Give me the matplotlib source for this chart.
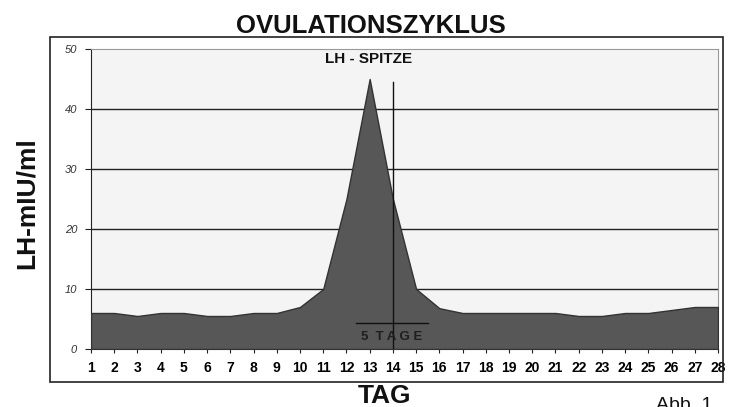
import numpy as np
import matplotlib.pyplot as plt
from matplotlib.patches import Rectangle

plt.rcParams['font.family'] = ['Liberation Sans', 'DejaVu Sans']

# Data
days = list(range(1, 29))
lh_values = [6, 6, 5.5, 6, 6, 5.5, 5.5, 6, 6, 7, 10, 25, 45, 25, 10, 6.8, 6,
             6, 6, 6, 6, 5.5, 5.5, 6, 6, 6.5, 7, 7]
y_ticks = [0, 10, 20, 30, 40, 50]
peak_day = 14
peak_line_top = 44.5
window_start, window_end = 12.4, 15.5

fig = plt.figure(figsize=(7.34, 4.07), dpi=100)
fig.patch.set_facecolor('white')

# outer frame
fig.patches.append(Rectangle((50 / 734, 1 - 382 / 407), 673 / 734, 345 / 407,
                             transform=fig.transFigure, fill=False,
                             edgecolor='#222222', linewidth=1.2))

ax = fig.add_axes([91 / 734, 1 - 349 / 407, 627 / 734, 300 / 407])
ax.set_facecolor('#f4f4f4')

ax.fill_between(days, lh_values, 0, color='#575757', edgecolor='#333333',
                linewidth=1.0, zorder=3)

for v in y_ticks[1:-1]:
    ax.axhline(v, color='#222222', linewidth=1.0, zorder=2)

# LH peak marker
ax.plot([peak_day, peak_day], [0, peak_line_top], color='#111111',
        linewidth=1.0, zorder=4)
ax.text(12.95, 48.3, 'LH - SPITZE', ha='center', va='center', fontsize=11,
        fontweight='bold', color='#111111', zorder=5)

# 5 day window
ax.plot([window_start, window_end], [4.3, 4.3], color='#111111',
        linewidth=1.0, zorder=4)
ax.text((window_start + window_end) / 2, 2.0, '5  T A G E', ha='center',
        va='center', fontsize=9.5, fontweight='bold', color='#1e1e1e', zorder=5)

ax.set_xlim(1, 28)
ax.set_ylim(0, 50)
ax.set_xticks(days)
ax.set_xticklabels([str(d) for d in days], fontsize=10, fontweight='bold')
ax.set_yticks(y_ticks)
ax.set_yticklabels([str(v) for v in y_ticks], fontsize=8, style='italic',
                   color='#333333')
ax.tick_params(axis='x', length=3, pad=6, color='#222222')
ax.tick_params(axis='y', length=4, pad=6, color='#222222')

for side in ['top', 'right']:
    ax.spines[side].set_color('#999999')
for side in ['left', 'bottom']:
    ax.spines[side].set_color('#222222')

fig.text(371 / 734, 1 - 26 / 407, 'OVULATIONSZYKLUS', ha='center',
         va='center', fontsize=18.5, fontweight='bold', color='#111111')
fig.text(27 / 734, 1 - 203 / 407, 'LH-mIU/ml', ha='center', va='center',
         rotation=90, fontsize=19, fontweight='bold', color='#111111')
fig.text(385 / 734, 1 - 396 / 407, 'TAG', ha='center', va='center',
         fontsize=19, fontweight='bold', color='#111111')
fig.text(656 / 734, 1 - 397 / 407, 'Abb. 1', ha='left', va='top',
         fontsize=14, color='#111111')

fig.savefig('out.png', dpi=100)
